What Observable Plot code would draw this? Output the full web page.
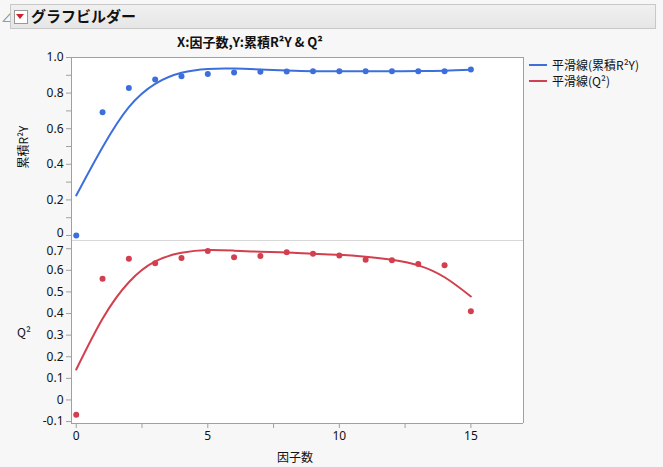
<!DOCTYPE html>
<html><head><meta charset="utf-8">
<script src="https://cdn.jsdelivr.net/npm/d3@7"></script>
<script src="https://cdn.jsdelivr.net/npm/@observablehq/plot@0.6"></script>
<style>
body{margin:0;background:#f7f7f7;font-family:"Noto Sans","Noto Sans CJK JP",sans-serif;}
#wrap{position:relative;width:663px;height:467px;overflow:hidden;}
.abs{position:absolute;white-space:nowrap;}
#hdr{left:10px;top:4px;width:644px;height:23px;border:1px solid #c8c8c8;background:linear-gradient(#f0f0f0,#e6e6e6);}
</style></head><body>
<div id="wrap">
  <div class="abs" style="left:1px;top:8px;font-size:12px;color:#888;">⊿</div>
  <div id="hdr" class="abs"></div>
  <div class="abs" style="left:14px;top:10px;width:12px;height:12px;border:1px solid #999;background:#fff;"></div>
  <div class="abs" style="left:16px;top:14px;width:0;height:0;border-left:4px solid transparent;border-right:4px solid transparent;border-top:5px solid #d0202a;"></div>
  <div class="abs" style="left:31px;top:5px;font-size:15px;font-weight:bold;font-family:'Noto Sans CJK JP',sans-serif;color:#111;">グラフビルダー</div>
  <div class="abs" style="left:177px;top:32px;font-size:13px;font-weight:bold;font-family:'Noto Sans CJK JP',sans-serif;color:#111;">X:因子数,Y:累積R²Y &amp; Q²</div>
  <div class="abs" style="left:22px;top:147px;font-size:12px;font-family:'Noto Sans CJK JP',sans-serif;transform:translate(-50%,-50%) rotate(-90deg);color:#111;">累積R²Y</div>
  <div class="abs" style="left:17px;top:323px;font-size:12px;font-family:'Noto Sans CJK JP',sans-serif;color:#111;">Q²</div>
  <div class="abs" style="left:277px;top:448px;font-size:12px;font-family:'Noto Sans CJK JP',sans-serif;color:#111;">因子数</div>
  <div id="p1" class="abs" style="left:0;top:50px;"></div>
  <div id="p2" class="abs" style="left:0;top:240px;"></div>
  <div id="leg" class="abs" style="left:529px;top:57px;font-size:12px;font-family:'Noto Sans CJK JP',sans-serif;color:#111;line-height:16px;"></div>
</div>
<script>
const factors = [0,1,2,3,4,5,6,7,8,9,10,11,12,13,14,15];
const r2y = [0.0,0.693,0.828,0.876,0.895,0.908,0.916,0.920,0.921,0.923,0.923,0.923,0.923,0.923,0.923,0.933];
const r2ySmooth = [0.225,0.496,0.721,0.852,0.914,0.936,0.938,0.933,0.927,0.923,0.923,0.923,0.923,0.924,0.926,0.931];
const q2 = [-0.068,0.561,0.654,0.633,0.657,0.689,0.660,0.666,0.684,0.677,0.669,0.649,0.647,0.629,0.623,0.411];
const q2Smooth = [0.141,0.376,0.545,0.641,0.681,0.694,0.691,0.686,0.683,0.677,0.672,0.663,0.649,0.623,0.568,0.479];
const topTicks = [0,0.1,0.2,0.3,0.4,0.5,0.6,0.7,0.8,0.9,1.0];
const topLabels = [0.2,0.4,0.6,0.8,1.0];
const topZero = [0];
const botTicks = [-0.1,0,0.1,0.2,0.3,0.4,0.5,0.6,0.7];
const botLabels = [-0.1,0,0.1,0.2,0.3,0.4,0.5,0.6];
const botTopLabel = [0.7];
const xTicks = [0,2.5,5,7.5,10,12.5,15];
const xLabels = [0,5,10,15];
const legendItems = ["平滑線(累積R²Y)","平滑線(Q²)"];

const BLUE = "#3d6fdc", RED = "#d23f4e", FRAME = "#a0a0a0";
const xDomain = [-0.18, 17.0];
const fmt = d => Math.abs(d) < 1e-9 ? "0" : d.toFixed(1);
const plotStyle = {fontFamily:"'Noto Sans','Noto Sans CJK JP',sans-serif",fontSize:"12px",color:"#111",background:"transparent",overflow:"visible"};

const topData = factors.map((f,i)=>({f, v:r2y[i], s:r2ySmooth[i]}));
const botData = factors.map((f,i)=>({f, v:q2[i], s:q2Smooth[i]}));

const p1 = Plot.plot({
  width:663, height:190, marginLeft:71, marginRight:140, marginTop:7, marginBottom:0,
  style: plotStyle,
  x:{domain:xDomain, axis:null},
  y:{domain:[-0.028,1.0]},
  marks:[
    Plot.frame({fill:"white", stroke:null}),
    Plot.axisY({ticks:topTicks, tickSize:5, stroke:FRAME, text:null, label:null}),
    Plot.axisY({ticks:topLabels, tickSize:0, tickPadding:8, tickFormat:fmt, label:null}),
    Plot.axisY({ticks:topZero, tickSize:0, tickPadding:8, tickFormat:fmt, label:null, dy:-2}),
    Plot.ruleY([-0.028],{stroke:"#d8d8d8"}),
    Plot.ruleX([xDomain[0]],{stroke:FRAME}),
    Plot.ruleX([xDomain[1]],{stroke:FRAME}),
    Plot.ruleY([1.0],{stroke:FRAME}),
    Plot.line(topData,{x:"f", y:"s", stroke:BLUE, strokeWidth:2, curve:"natural"}),
    Plot.dot(topData,{x:"f", y:"v", fill:BLUE, r:3})
  ]
});
document.getElementById("p1").appendChild(p1);

const p2 = Plot.plot({
  width:663, height:227, marginLeft:71, marginRight:140, marginTop:0, marginBottom:44,
  style: plotStyle,
  x:{domain:xDomain},
  y:{domain:[-0.109,0.738]},
  marks:[
    Plot.frame({fill:"white", stroke:null}),
    Plot.axisY({ticks:botTicks, tickSize:5, stroke:FRAME, text:null, label:null}),
    Plot.axisY({ticks:botLabels, tickSize:0, tickPadding:8, tickFormat:fmt, label:null}),
    Plot.axisY({ticks:botTopLabel, tickSize:0, tickPadding:8, tickFormat:fmt, label:null, dy:2}),
    Plot.axisX({ticks:xTicks, tickSize:5, tickPadding:3, stroke:FRAME,
      tickFormat:d => xLabels.includes(d) ? String(d) : "", label:null}),
    Plot.ruleY([0.738],{stroke:"#d8d8d8"}),
    Plot.ruleY([-0.109],{stroke:FRAME}),
    Plot.ruleX([xDomain[0]],{stroke:FRAME}),
    Plot.ruleX([xDomain[1]],{stroke:FRAME}),
    Plot.line(botData,{x:"f", y:"s", stroke:RED, strokeWidth:2, curve:"natural"}),
    Plot.dot(botData,{x:"f", y:"v", fill:RED, r:3})
  ]
});
document.getElementById("p2").appendChild(p2);

const leg = document.getElementById("leg");
[BLUE, RED].forEach((c,i)=>{
  const row = document.createElement("div");
  row.style.display="flex"; row.style.alignItems="center";
  row.innerHTML = `<span style="display:inline-block;width:18px;height:2px;background:${c};margin-right:5px;"></span>${legendItems[i]}`;
  leg.appendChild(row);
});
</script>
</body></html>
